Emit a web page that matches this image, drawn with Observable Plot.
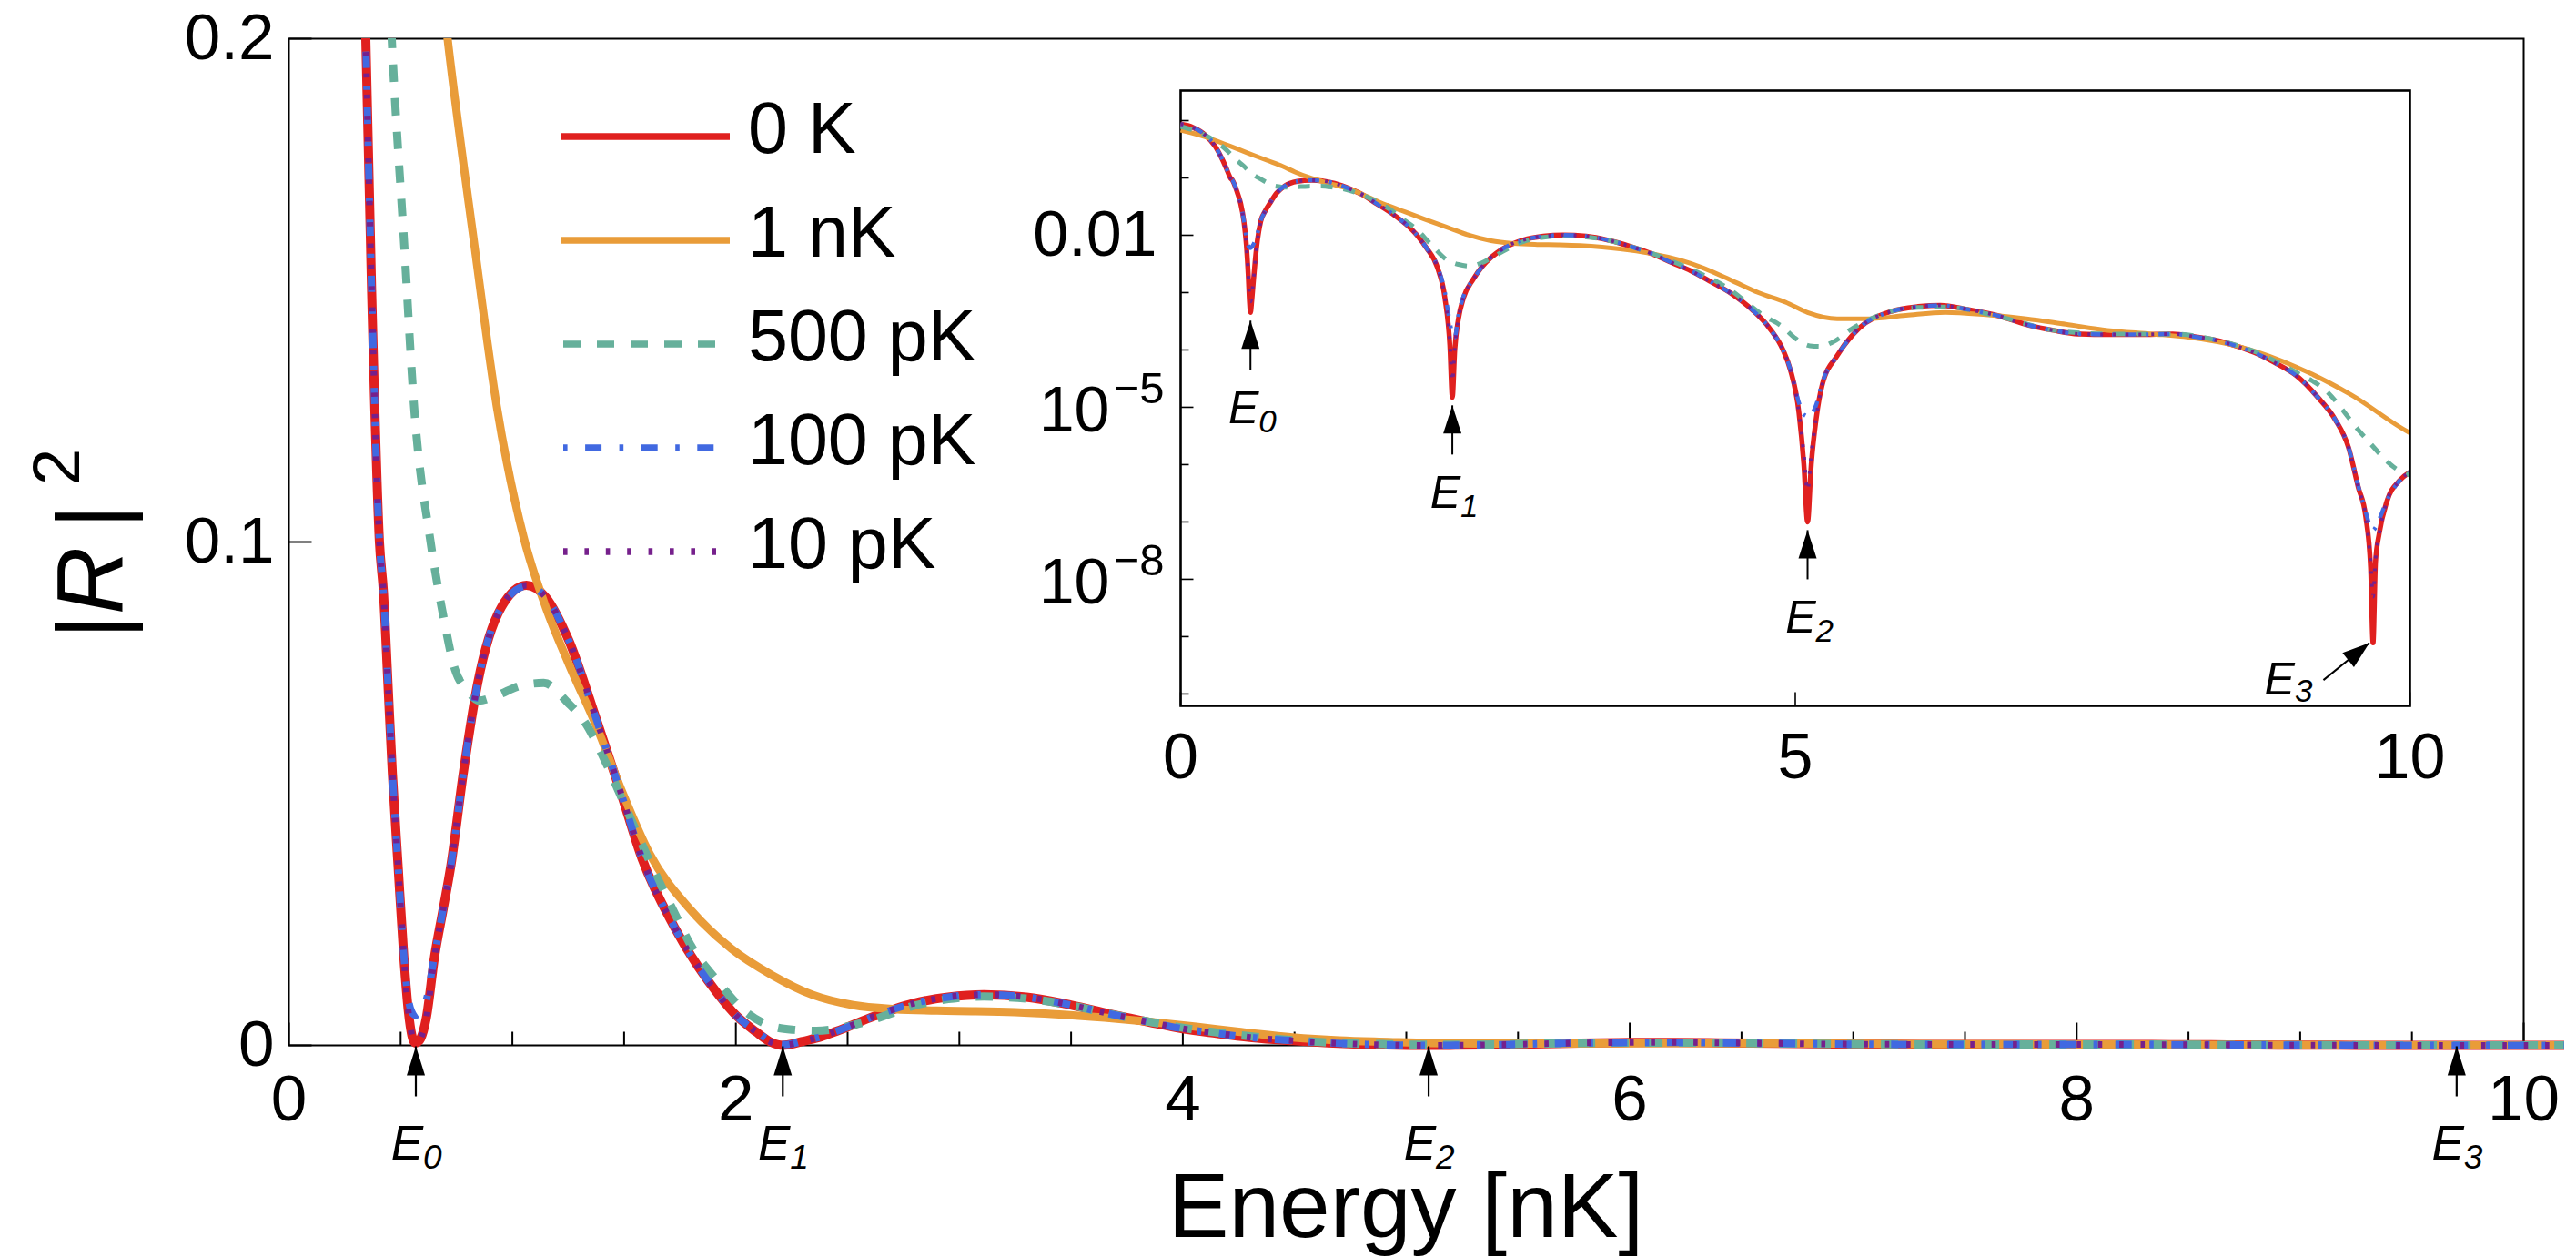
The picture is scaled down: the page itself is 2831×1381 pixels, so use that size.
<!DOCTYPE html>
<html><head><meta charset="utf-8">
<script src="https://cdn.jsdelivr.net/npm/d3@7"></script>
<script src="https://cdn.jsdelivr.net/npm/@observablehq/plot@0.6"></script>
<style>
html,body{margin:0;padding:0;background:#fff;}
#wrap{position:relative;width:2831px;height:1381px;overflow:hidden;background:#fff;}
#wrap > svg{position:absolute;}
</style></head><body><div id="wrap"></div>
<script>
// ---------------- data ----------------
const seriesNames = ["0 K", "1 nK", "500 pK", "100 pK", "10 pK"];

// [Energy (nK), |R|^2]
const curve0K = [[0.00,0.87],[0.10,0.76],[0.20,0.56],[0.28,0.36],[0.344,0.20],[0.37,0.15],[0.405,0.100],[0.423,0.090],[0.443,0.072],[0.463,0.054],[0.488,0.036],[0.514,0.0177],[0.535,0.0066],[0.550,0.0020],[0.560,0.0007],[0.568,0.00045],[0.578,0.0007],[0.590,0.0014],[0.615,0.0055],[0.652,0.0177],[0.690,0.027],[0.725,0.0358],[0.780,0.054],[0.845,0.072],[0.950,0.087],[1.063,0.0914],[1.15,0.089],[1.252,0.0805],[1.38,0.0642],[1.489,0.0497],[1.58,0.0371],[1.725,0.0235],[1.925,0.0099],[2.00,0.0060],[2.09,0.0027],[2.15,0.0008],[2.19,0.00012],[2.21,0.000015],[2.23,0.00010],[2.26,0.00035],[2.30,0.0008],[2.38,0.0017],[2.45,0.0028],[2.62,0.0058],[2.79,0.0083],[2.95,0.0096],[3.11,0.0101],[3.30,0.0096],[3.47,0.0083],[3.65,0.0065],[3.85,0.0046],[4.00,0.0033],[4.15,0.0024],[4.30,0.0016],[4.49,0.00093],[4.65,0.00050],[4.79,0.00024],[4.90,0.00010],[4.96,0.000045],[5.03,0.000008],[5.07,0.000001],[5.10,0.0000001],[5.13,0.000001],[5.17,0.0000063],[5.22,0.000025],[5.34,0.000079],[5.52,0.00024],[5.78,0.00047],[6.00,0.00057],[6.18,0.00060],[6.40,0.00051],[6.66,0.00039],[6.90,0.00027],[7.10,0.00022],[7.30,0.00019],[7.54,0.000186],[7.80,0.000186],[8.07,0.00019],[8.25,0.00017],[8.42,0.000148],[8.60,0.000115],[8.73,0.000091],[8.90,0.000060],[9.08,0.000035],[9.25,0.000015],[9.39,0.0000062],[9.50,0.000002],[9.58,0.0000004],[9.64,0.000000126],[9.68,0.000000016],[9.70,0.00000000078],[9.72,0.00000002],[9.75,0.000000063],[9.81,0.00000022],[9.92,0.00000054],[10.02,0.00000079],[10.2,0.0000012]];

const curve1nK = [[0.00,0.68],[0.20,0.52],[0.40,0.36],[0.55,0.27],[0.71,0.200],[0.83,0.159],[0.93,0.127],[1.05,0.101],[1.15,0.087],[1.25,0.076],[1.38,0.063],[1.49,0.0505],[1.615,0.0380],[1.80,0.0268],[1.98,0.0192],[2.16,0.0140],[2.34,0.0101],[2.525,0.0080],[2.71,0.0072],[2.90,0.0069],[3.07,0.0068],[3.25,0.0066],[3.43,0.0062],[3.65,0.0055],[3.85,0.0047],[4.06,0.0037],[4.25,0.0027],[4.49,0.0016],[4.70,0.0010],[4.92,0.00068],[5.10,0.00045],[5.34,0.00035],[5.60,0.00035],[5.90,0.00040],[6.22,0.00045],[6.55,0.00041],[6.88,0.00035],[7.20,0.00028],[7.54,0.00022],[7.90,0.00019],[8.20,0.000166],[8.64,0.00011],[9.08,0.00005],[9.52,0.0000166],[10.02,0.0000034],[10.2,0.0000023]];

const curve500pK = [[0.00,0.79],[0.20,0.56],[0.35,0.34],[0.46,0.200],[0.516,0.159],[0.56,0.127],[0.634,0.100],[0.69,0.0855],[0.743,0.0747],[0.80,0.0705],[0.85,0.0685],[0.93,0.0695],[1.04,0.0715],[1.14,0.0720],[1.25,0.0680],[1.32,0.0645],[1.42,0.0560],[1.51,0.0470],[1.62,0.0360],[1.72,0.0268],[1.81,0.0190],[1.91,0.0132],[2.03,0.0072],[2.16,0.0038],[2.26,0.0031],[2.36,0.0029],[2.45,0.0033],[2.55,0.0043],[2.62,0.0052],[2.79,0.0078],[2.95,0.0092],[3.11,0.0097],[3.30,0.0093],[3.47,0.0082],[3.65,0.0065],[3.85,0.0047],[4.00,0.0035],[4.20,0.0023],[4.45,0.0012],[4.74,0.00040],[4.90,0.00025],[5.00,0.00016],[5.12,0.000118],[5.21,0.000115],[5.30,0.000135],[5.47,0.00024],[5.78,0.00047],[6.00,0.00055],[6.22,0.00056],[6.66,0.00038],[7.10,0.00022],[7.54,0.00019],[8.07,0.00019],[8.42,0.00015],[8.73,0.000095],[9.08,0.000040],[9.30,0.000021],[9.61,0.0000034],[9.91,0.00000079],[10.02,0.00000063],[10.2,0.00000045]];

const curve100pK = [[0.00,0.87],[0.10,0.76],[0.20,0.56],[0.28,0.36],[0.344,0.20],[0.37,0.15],[0.405,0.100],[0.423,0.090],[0.443,0.072],[0.463,0.054],[0.488,0.036],[0.514,0.0180],[0.535,0.0090],[0.550,0.0066],[0.560,0.0061],[0.568,0.0060],[0.578,0.0062],[0.590,0.0068],[0.615,0.0090],[0.652,0.0180],[0.690,0.027],[0.725,0.0358],[0.780,0.054],[0.845,0.072],[0.950,0.087],[1.063,0.0912],[1.15,0.089],[1.252,0.0805],[1.38,0.0642],[1.489,0.0497],[1.58,0.0371],[1.725,0.0235],[1.925,0.0099],[2.00,0.0060],[2.09,0.0028],[2.15,0.0010],[2.19,0.00030],[2.21,0.00019],[2.23,0.000166],[2.26,0.00040],[2.30,0.00085],[2.38,0.0017],[2.45,0.0028],[2.62,0.0058],[2.79,0.0083],[2.95,0.0096],[3.11,0.0101],[3.30,0.0096],[3.47,0.0083],[3.65,0.0065],[3.85,0.0046],[4.00,0.0033],[4.15,0.0024],[4.30,0.0016],[4.49,0.00093],[4.65,0.00050],[4.79,0.00024],[4.90,0.00010],[4.96,0.000046],[5.03,0.000012],[5.07,0.0000075],[5.10,0.000007],[5.13,0.0000075],[5.17,0.000011],[5.22,0.000027],[5.34,0.000079],[5.52,0.00024],[5.78,0.00047],[6.00,0.00057],[6.18,0.00060],[6.40,0.00051],[6.66,0.00039],[6.90,0.00027],[7.10,0.00022],[7.30,0.00019],[7.54,0.000186],[7.80,0.000186],[8.07,0.00019],[8.25,0.00017],[8.42,0.000148],[8.60,0.000115],[8.73,0.000091],[8.90,0.000060],[9.08,0.000035],[9.25,0.000015],[9.39,0.0000062],[9.50,0.000002],[9.58,0.00000042],[9.64,0.00000015],[9.68,0.00000008],[9.70,0.000000072],[9.72,0.00000008],[9.75,0.00000011],[9.81,0.00000023],[9.92,0.00000054],[10.02,0.00000079],[10.2,0.0000012]];

const curve10pK = [[0.00,0.87],[0.10,0.76],[0.20,0.56],[0.28,0.36],[0.344,0.20],[0.37,0.15],[0.405,0.100],[0.423,0.090],[0.443,0.072],[0.463,0.054],[0.488,0.036],[0.514,0.0177],[0.535,0.0066],[0.550,0.0021],[0.560,0.00085],[0.568,0.0007],[0.578,0.00085],[0.590,0.0015],[0.615,0.0055],[0.652,0.0177],[0.690,0.027],[0.725,0.0358],[0.780,0.054],[0.845,0.072],[0.950,0.087],[1.063,0.0914],[1.15,0.089],[1.252,0.0805],[1.38,0.0642],[1.489,0.0497],[1.58,0.0371],[1.725,0.0235],[1.925,0.0099],[2.00,0.0060],[2.09,0.0027],[2.15,0.0008],[2.19,0.00014],[2.21,0.000028],[2.23,0.00011],[2.26,0.00035],[2.30,0.0008],[2.38,0.0017],[2.45,0.0028],[2.62,0.0058],[2.79,0.0083],[2.95,0.0096],[3.11,0.0101],[3.30,0.0096],[3.47,0.0083],[3.65,0.0065],[3.85,0.0046],[4.00,0.0033],[4.15,0.0024],[4.30,0.0016],[4.49,0.00093],[4.65,0.00050],[4.79,0.00024],[4.90,0.00010],[4.96,0.000045],[5.03,0.000008],[5.07,0.0000015],[5.10,0.00000035],[5.13,0.0000015],[5.17,0.0000065],[5.22,0.000025],[5.34,0.000079],[5.52,0.00024],[5.78,0.00047],[6.00,0.00057],[6.18,0.00060],[6.40,0.00051],[6.66,0.00039],[6.90,0.00027],[7.10,0.00022],[7.30,0.00019],[7.54,0.000186],[7.80,0.000186],[8.07,0.00019],[8.25,0.00017],[8.42,0.000148],[8.60,0.000115],[8.73,0.000091],[8.90,0.000060],[9.08,0.000035],[9.25,0.000015],[9.39,0.0000062],[9.50,0.000002],[9.58,0.0000004],[9.64,0.000000126],[9.68,0.00000002],[9.70,0.000000005],[9.72,0.000000023],[9.75,0.000000063],[9.81,0.00000022],[9.92,0.00000054],[10.02,0.00000079],[10.2,0.0000012]];

// resonance energies (arrows)
const levelE = [0.568, 2.21, 5.10, 9.70];
const levelSub = ["0", "1", "2", "3"];

// ticks
const xMajorTicks = [0, 2, 4, 6, 8, 10];
const xMinorTicks = [0.5, 1, 1.5, 2.5, 3, 3.5, 4.5, 5, 5.5, 6.5, 7, 7.5, 8.5, 9, 9.5];
const yTicks = [0, 0.1, 0.2];
const insetXTicks = [0, 5, 10];
const insetDecades = [1, 1e-1, 1e-2, 1e-3, 1e-4, 1e-5, 1e-6, 1e-7, 1e-8, 1e-9, 1e-10];
const insetLabelDecades = [1e-2, 1e-5, 1e-8];
const insetLabelBase = ["0.01", "10", "10"];
const insetLabelSup = ["", "\u22125", "\u22128"];

// ---------------- styles ----------------
const FONT = '"Liberation Sans", Arial, Helvetica, sans-serif';
const curves = [curve0K, curve1nK, curve500pK, curve100pK, curve10pK];
const styles = [
  {color: "#e0201f", w: 10,  wi: 5.5, dash: null,                dashI: null},
  {color: "#e99c39", w: 9,   wi: 5,   dash: null,                dashI: null},
  {color: "#66b09b", w: 9,   wi: 5,   dash: "19,18",             dashI: "13,12"},
  {color: "#4169e1", w: 8,   wi: 4.5, dash: "4.6,19.5,18,19.5",  dashI: "3,11,12,11"},
  {color: "#76208c", w: 7,   wi: 4,   dash: "4.6,18.8",          dashI: "3,11"}
];
const rows = curves.map(c => c.map(([E, R]) => ({E, R})));

const wrap = document.getElementById("wrap");

// ---------------- main plot ----------------
const mainLines = rows.map((data, i) => Plot.line(data, {
  x: "E", y: "R", curve: "monotone-x", clip: true,
  stroke: styles[i].color, strokeWidth: styles[i].w,
  strokeDasharray: styles[i].dash, strokeLinecap: "butt", strokeLinejoin: "round"
}));
const levelRows = levelE.map((E, i) => ({E, sub: levelSub[i], dip: curve0K.find(p => p[0] === E)[1]}));

const main = Plot.plot({
  width: 2831, height: 1381,
  marginLeft: 317, marginRight: 58, marginTop: 42, marginBottom: 233,
  x: {domain: [0, 10], axis: null},
  y: {domain: [0, 0.2], axis: null},
  style: {fontFamily: FONT, background: "transparent", overflow: "visible"},
  marks: [
    Plot.frame({stroke: "black", strokeWidth: 2}),
    Plot.vector(xMinorTicks, {x: d => d, frameAnchor: "bottom", anchor: "start", length: 15, r: 0, stroke: "black", strokeWidth: 2, strokeLinecap: "butt"}),
    Plot.vector(xMajorTicks, {x: d => d, frameAnchor: "bottom", anchor: "start", length: 25, r: 0, stroke: "black", strokeWidth: 2, strokeLinecap: "butt"}),
    Plot.vector(yTicks, {y: d => d, frameAnchor: "left", anchor: "start", rotate: 90, length: 25, r: 0, stroke: "black", strokeWidth: 2, strokeLinecap: "butt"}),
    Plot.axisX({ticks: xMajorTicks, tickSize: 0, tickPadding: 32, fontSize: 71, tickFormat: d => String(d), label: null, fontFamily: FONT}),
    Plot.axisY({ticks: yTicks, tickSize: 0, tickPadding: 16, fontSize: 71, tickFormat: d => String(d), label: null, fontFamily: FONT}),
    ...mainLines,
    Plot.vector(levelRows, {x: "E", y: () => 0, dy: 1, anchor: "end", length: 55, r: 0, stroke: "black", strokeWidth: 2.2, strokeLinecap: "butt"}),
    Plot.vector(levelRows, {x: "E", y: () => 0, dy: 1, anchor: "end", length: 32, r: 10, shape: "spike", fill: "black", stroke: "none"}),
    Plot.text(levelRows, {x: "E", y: () => 0, text: () => "E", dx: 8, dy: 109, textAnchor: "end", fontSize: 53, fontStyle: "italic", fontFamily: FONT}),
    Plot.text(levelRows, {x: "E", y: () => 0, text: "sub", dx: 8, dy: 124, textAnchor: "start", fontSize: 37, fontStyle: "italic", fontFamily: FONT})
  ]
});
main.style.left = "0px"; main.style.top = "0px";
// let the curves show their full width along the bottom axis and slightly beyond the right edge
main.querySelectorAll("clipPath rect").forEach(r => {
  r.setAttribute("height", +r.getAttribute("height") + 30);
  r.setAttribute("width", +r.getAttribute("width") + 45);
});
wrap.appendChild(main);

// ---------------- inset (log scale) ----------------
const insetLines = rows.map((data, i) => Plot.line(data, {
  x: "E", y: "R", curve: "monotone-x", clip: true,
  stroke: styles[i].color, strokeWidth: styles[i].wi,
  strokeDasharray: styles[i].dashI, strokeLinecap: "butt", strokeLinejoin: "round"
}));
const vert = levelRows.slice(0, 3), diag = levelRows.slice(3);
const insetLab = insetLabelDecades.map((v, i) => ({v, base: insetLabelBase[i], sup: insetLabelSup[i]}));

const inset = Plot.plot({
  width: 1620, height: 860,
  marginLeft: 197, marginRight: 72, marginTop: 59, marginBottom: 125,
  x: {domain: [0, 10], axis: null},
  y: {type: "log", domain: [6.2e-11, 3.34], axis: null},
  style: {fontFamily: FONT, background: "transparent", overflow: "visible"},
  marks: [
    Plot.frame({stroke: "black", strokeWidth: 2.6}),
    Plot.vector(insetDecades.filter(d => !insetLabelDecades.includes(d)), {y: d => d, frameAnchor: "left", anchor: "start", rotate: 90, length: 9, r: 0, stroke: "black", strokeWidth: 1.6, strokeLinecap: "butt"}),
    Plot.vector(insetLabelDecades, {y: d => d, frameAnchor: "left", anchor: "start", rotate: 90, length: 14, r: 0, stroke: "black", strokeWidth: 1.6, strokeLinecap: "butt"}),
    Plot.vector(insetXTicks, {x: d => d, frameAnchor: "bottom", anchor: "start", length: 15, r: 0, stroke: "black", strokeWidth: 1.6, strokeLinecap: "butt"}),
    Plot.axisX({ticks: insetXTicks, tickSize: 0, tickPadding: 30, fontSize: 70, tickFormat: d => String(d), label: null, fontFamily: FONT}),
    Plot.text(insetLab.filter(d => d.sup === ""), {y: "v", frameAnchor: "left", text: "base", textAnchor: "end", dx: -26, fontSize: 70, fontFamily: FONT}),
    Plot.text(insetLab.filter(d => d.sup !== ""), {y: "v", frameAnchor: "left", text: "base", textAnchor: "end", dx: -78, dy: 4, fontSize: 70, fontFamily: FONT}),
    Plot.text(insetLab.filter(d => d.sup !== ""), {y: "v", frameAnchor: "left", text: "sup", textAnchor: "end", dx: -18, dy: -20, fontSize: 49, fontFamily: FONT}),
    ...insetLines,
    Plot.vector(vert, {x: "E", y: "dip", dy: 9, anchor: "end", length: 54, r: 0, stroke: "black", strokeWidth: 2, strokeLinecap: "butt"}),
    Plot.vector(vert, {x: "E", y: "dip", dy: 9, anchor: "end", length: 31, r: 10, shape: "spike", fill: "black", stroke: "none"}),
    Plot.text(vert, {x: "E", y: "dip", text: () => "E", dx: 9, dy: 106, textAnchor: "end", fontSize: 50, fontStyle: "italic", fontFamily: FONT}),
    Plot.text(vert, {x: "E", y: "dip", text: "sub", dx: 9, dy: 120, textAnchor: "start", fontSize: 35, fontStyle: "italic", fontFamily: FONT}),
    Plot.vector(diag, {x: "E", y: "dip", dx: -4, anchor: "end", rotate: 51, length: 65, r: 0, stroke: "black", strokeWidth: 2, strokeLinecap: "butt"}),
    Plot.vector(diag, {x: "E", y: "dip", dx: -4, anchor: "end", rotate: 51, length: 30, r: 10, shape: "spike", fill: "black", stroke: "none"}),
    Plot.text(diag, {x: "E", y: "dip", text: () => "E", dx: -86, dy: 41, textAnchor: "end", fontSize: 50, fontStyle: "italic", fontFamily: FONT}),
    Plot.text(diag, {x: "E", y: "dip", text: "sub", dx: -86, dy: 54, textAnchor: "start", fontSize: 35, fontStyle: "italic", fontFamily: FONT})
  ]
});
inset.style.left = "1100px"; inset.style.top = "40px";
wrap.appendChild(inset);

// ---------------- overlay: axis titles and legend ----------------
const NS = "http://www.w3.org/2000/svg";
const ov = document.createElementNS(NS, "svg");
ov.setAttribute("width", 2831); ov.setAttribute("height", 1381);
ov.style.left = "0px"; ov.style.top = "0px"; ov.style.pointerEvents = "none";
let legend = "";
seriesNames.forEach((name, i) => {
  const y = 150 + i * 114;
  const s = styles[i];
  const x1 = s.dash ? 619 : 616, x2 = s.dash ? 787 : 802;
  legend += `<line x1="${x1}" x2="${x2}" y1="${y}" y2="${y}" stroke="${s.color}" stroke-width="7.5"${s.dash ? ` stroke-dasharray="${s.dash}"` : ""}/>`;
  legend += `<text x="822" y="${y + 18}" font-size="79">${name}</text>`;
});
ov.innerHTML = `<g font-family='${FONT}' fill="black">
  <text transform="translate(135,702) rotate(-90)" font-size="103"><tspan>|</tspan><tspan font-style="italic">R</tspan><tspan dx="20">|</tspan></text>
  <text transform="translate(87,533) rotate(-90)" font-size="72">2</text>
  <text x="1545" y="1359" text-anchor="middle" font-size="100">Energy [nK]</text>
  ${legend}
</g>`;
wrap.appendChild(ov);
</script></body></html>
